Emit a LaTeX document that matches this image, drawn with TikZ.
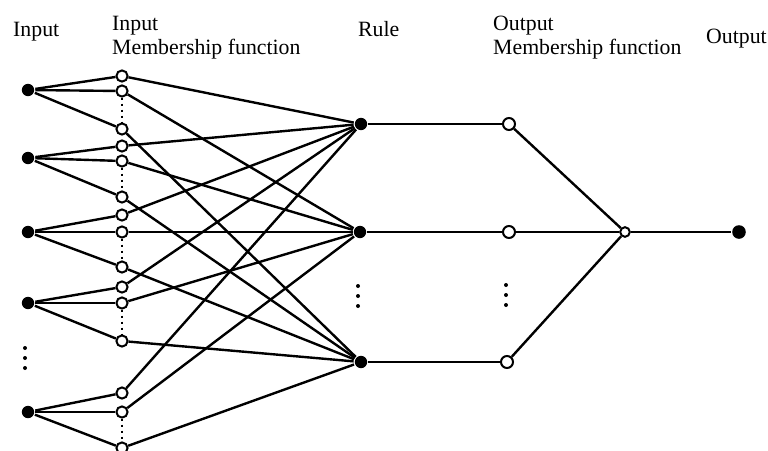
\documentclass[tikz,border=0pt]{standalone}
\usepackage{fontspec}
\setmainfont{Liberation Serif}

\begin{document}
\begin{tikzpicture}[x=0.5pt, y=-0.5pt, line width=1.2pt,
    filled/.style={circle, fill=black, inner sep=0pt, minimum size=6.2pt},
    hollow/.style={circle, draw, fill=white, inner sep=0pt, minimum size=5.6pt, line width=1pt},
    caption/.style={anchor=base west, inner sep=0pt, font=\fontsize{10.9pt}{13pt}\selectfont},
    dotline/.style={line width=1pt, dash pattern=on 1pt off 2pt}]
    \useasboundingbox (0,0) rectangle (768,451);

    \node[caption] (tin) at (12,36) {Input};
    \node[caption] (tmf1) at (111,30) {Input};
    \node[caption] (tmf2) at (111,54) {Membership function};
    \node[caption] (trule) at (357,36) {Rule};
    \node[caption] (tomf1) at (492,30) {Output};
    \node[caption] (tomf2) at (492,54) {Membership function};
    \node[caption] (tout) at (705,43) {Output};

    \node[filled] (i1) at (28, 90) {};
    \node[filled] (i2) at (28, 158) {};
    \node[filled] (i3) at (28, 232) {};
    \node[filled] (i4) at (28, 303) {};
    \node[filled] (i5) at (28, 412) {};

    \node[hollow] (m11) at (122, 76) {};
    \node[hollow] (m12) at (122, 91) {};
    \node[hollow] (m13) at (122, 129) {};
    \node[hollow] (m21) at (122, 146) {};
    \node[hollow] (m22) at (122, 161) {};
    \node[hollow] (m23) at (122, 197) {};
    \node[hollow] (m31) at (122, 215) {};
    \node[hollow] (m32) at (122, 232) {};
    \node[hollow] (m33) at (122, 267) {};
    \node[hollow] (m41) at (122, 287) {};
    \node[hollow] (m42) at (122, 303) {};
    \node[hollow] (m43) at (122, 341) {};
    \node[hollow] (m51) at (122, 393) {};
    \node[hollow] (m52) at (122, 412) {};
    \node[hollow] (m53) at (122, 448) {};

    \node[filled] (r1) at (361, 124) {};
    \node[filled] (r2) at (360, 232) {};
    \node[filled] (r3) at (361, 362) {};

    \node[hollow, minimum size=6pt] (o1) at (509, 124) {};
    \node[hollow, minimum size=6pt] (o2) at (509, 232) {};
    \node[hollow, minimum size=6pt] (o3) at (507, 362) {};

    \node[hollow, minimum size=4.8pt] (sum) at (625, 232) {};
    \node[filled, minimum size=6.8pt] (out) at (739, 232) {};

    % input to membership function
    \draw (i1) -- (m11); \draw (i1) -- (m12); \draw (i1) -- (m13);
    \draw (i2) -- (m21); \draw (i2) -- (m22); \draw (i2) -- (m23);
    \draw (i3) -- (m31); \draw (i3) -- (m32); \draw (i3) -- (m33);
    \draw (i4) -- (m41); \draw (i4) -- (m42); \draw (i4) -- (m43);
    \draw (i5) -- (m51); \draw (i5) -- (m52); \draw (i5) -- (m53);

    \draw[dotline] (m12) -- (m13);
    \draw[dotline] (m22) -- (m23);
    \draw[dotline] (m32) -- (m33);
    \draw[dotline] (m42) -- (m43);
    \draw[dotline] (m52) -- (m53);

    % membership function to rule
    \draw (m11) -- (r1); \draw (m12) -- (r2); \draw (m13) -- (r3);
    \draw (m21) -- (r1); \draw (m22) -- (r2); \draw (m23) -- (r3);
    \draw (m31) -- (r1); \draw (m32) -- (r2); \draw (m33) -- (r3);
    \draw (m41) -- (r1); \draw (m42) -- (r2); \draw (m43) -- (r3);
    \draw (m51) -- (r1); \draw (m52) -- (r2); \draw (m53) -- (r3);

    \draw (r1) -- (o1);
    \draw (r2) -- (o2);
    \draw (r3) -- (o3);

    \draw (o1) -- (sum);
    \draw (o2) -- (sum);
    \draw (o3) -- (sum);
    \draw (sum) -- (out);

    \fill (25,348) circle (1pt) (25,358) circle (1pt) (25,368) circle (1pt);
    \fill (358,286) circle (1pt) (358,296) circle (1pt) (358,306) circle (1pt);
    \fill (506,285) circle (1pt) (506,295) circle (1pt) (506,305) circle (1pt);
  \end{tikzpicture}
\end{document}
